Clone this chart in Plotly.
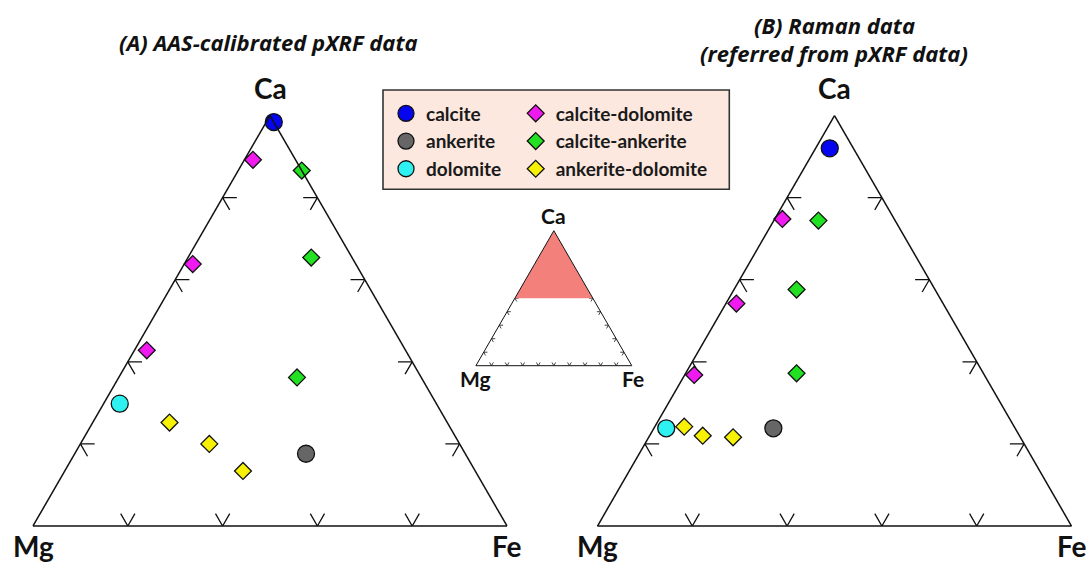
import plotly.graph_objects as go

# ---------------- data ----------------
categories = ["calcite", "ankerite", "dolomite",
              "calcite-dolomite", "calcite-ankerite", "ankerite-dolomite"]

# (A) AAS-calibrated pXRF data  (fractions of Ca, Mg, Fe)
A_Ca = {"calcite": [0.992], "ankerite": [0.588], "dolomite": [0.649],
        "calcite-dolomite": [0.946, 0.819, 0.714],
        "calcite-ankerite": [0.933, 0.827, 0.681],
        "ankerite-dolomite": [0.626, 0.600, 0.567]}
A_Mg = {"calcite": [0.000], "ankerite": [0.168], "dolomite": [0.334],
        "calcite-dolomite": [0.045, 0.172, 0.273],
        "calcite-ankerite": [0.000, 0.043, 0.131],
        "ankerite-dolomite": [0.293, 0.264, 0.245]}
A_Fe = {"calcite": [0.008], "ankerite": [0.244], "dolomite": [0.017],
        "calcite-dolomite": [0.009, 0.009, 0.013],
        "calcite-ankerite": [0.067, 0.130, 0.188],
        "ankerite-dolomite": [0.081, 0.136, 0.188]}

# (B) Raman data (referred from pXRF data)
B_Ca = {"calcite": [0.960], "ankerite": [0.619], "dolomite": [0.619],
        "calcite-dolomite": [0.874, 0.771, 0.684],
        "calcite-ankerite": [0.872, 0.788, 0.686],
        "ankerite-dolomite": [0.621, 0.610, 0.608]}
B_Mg = {"calcite": [0.025], "ankerite": [0.255], "dolomite": [0.368],
        "calcite-dolomite": [0.118, 0.218, 0.306],
        "calcite-ankerite": [0.081, 0.146, 0.197],
        "ankerite-dolomite": [0.348, 0.334, 0.303]}
B_Fe = {"calcite": [0.015], "ankerite": [0.126], "dolomite": [0.013],
        "calcite-dolomite": [0.008, 0.011, 0.010],
        "calcite-ankerite": [0.047, 0.066, 0.117],
        "ankerite-dolomite": [0.031, 0.056, 0.089]}

ca_zoom_min = 0.5                       # displayed Ca range in (A) and (B)
main_tick_fracs = [0.2, 0.4, 0.6, 0.8]  # tick positions along each edge
inset_tick_fracs = [0.1, 0.2, 0.3, 0.4, 0.5, 0.6, 0.7, 0.8, 0.9]
corner_labels = ["Ca", "Mg", "Fe"]
panel_titles = ["(A) AAS-calibrated pXRF data", "(B) Raman data",
                "(referred from pXRF data)"]

# ---------------- styles ----------------
colors = {"calcite": "#0505f0", "ankerite": "#666666", "dolomite": "#2ef2f2",
          "calcite-dolomite": "#f01af0", "calcite-ankerite": "#22e022",
          "ankerite-dolomite": "#f7f205"}
symbols = {"calcite": "circle", "ankerite": "circle", "dolomite": "circle",
           "calcite-dolomite": "diamond", "calcite-ankerite": "diamond",
           "ankerite-dolomite": "diamond"}
sizes = {"circle": 17, "diamond": 13}
legend_of = {"calcite": "legend", "ankerite": "legend", "dolomite": "legend",
             "calcite-dolomite": "legend2", "calcite-ankerite": "legend2",
             "ankerite-dolomite": "legend2"}

W, H = 1088, 563
FONT = "Lato"


def px(x):
    return x / W


def py(y):
    return 1 - y / H


def chevrons(amin, fracs, d):
    """Chevron tick marks along the three edges of a ternary with a-min = amin."""
    S = 1 - amin
    A, B, C = [], [], []
    for f in fracs:
        segs = []
        a = amin + S * f; b = 1 - a; c = 0.0          # left edge (Mg-Ca)
        segs.append([(a, b - d, c + d), (a, b, c), (a - d, b, c + d)])
        a = amin; c = S * f; b = S - c                # bottom edge (Mg-Fe)
        segs.append([(a + d, b, c - d), (a, b, c), (a + d, b - d, c)])
        a = amin + S * f; b = 0.0; c = 1 - a          # right edge (Ca-Fe)
        segs.append([(a, b + d, c - d), (a, b, c), (a - d, b + d, c)])
        for seg in segs:
            for p in seg:
                A.append(p[0]); B.append(p[1]); C.append(p[2])
            A.append(None); B.append(None); C.append(None)
    return A, B, C


fig = go.Figure()

# chevron ticks
for sub, amin, fracs, d, lw in [("ternary", ca_zoom_min, main_tick_fracs, 0.015, 1.3),
                                ("ternary2", ca_zoom_min, main_tick_fracs, 0.015, 1.3),
                                ("ternary3", 0.0, inset_tick_fracs, 0.024, 0.8)]:
    ta, tb, tc = chevrons(amin, fracs, d)
    fig.add_trace(go.Scatterternary(a=ta, b=tb, c=tc, mode="lines", subplot=sub,
                                    line=dict(color="#111111", width=lw),
                                    showlegend=False, hoverinfo="skip",
                                    connectgaps=False))

# inset shaded region (range displayed in the main diagrams)
fig.add_trace(go.Scatterternary(
    a=[1.0, ca_zoom_min, ca_zoom_min, 1.0],
    b=[0.0, 1 - ca_zoom_min, 0.0, 0.0],
    c=[0.0, 0.0, 1 - ca_zoom_min, 0.0],
    mode="lines", fill="toself", fillcolor="#f4807b",
    line=dict(width=0, color="#f4807b"), subplot="ternary3",
    showlegend=False, hoverinfo="skip"))

# data points
for sub, Ca, Mg, Fe, show in [("ternary", A_Ca, A_Mg, A_Fe, True),
                              ("ternary2", B_Ca, B_Mg, B_Fe, False)]:
    for cat in categories:
        fig.add_trace(go.Scatterternary(
            a=Ca[cat], b=Mg[cat], c=Fe[cat], mode="markers", name=cat,
            subplot=sub, legendgroup=cat, legend=legend_of[cat],
            showlegend=show, cliponaxis=False,
            marker=dict(symbol=symbols[cat], size=sizes[symbols[cat]],
                        color=colors[cat],
                        line=dict(color="#111111", width=1.3))))


def ternary_layout(x0, x1, ytop, ybot, amin, lw):
    ax = dict(showticklabels=False, ticks="", showgrid=False,
              linecolor="#111111", linewidth=lw, title=dict(text=""))
    return dict(
        domain=dict(x=[px(x0), px(x1)], y=[py(ybot), py(ytop)]), sum=1,
        bgcolor="rgba(0,0,0,0)",
        aaxis=dict(min=amin, **ax), baxis=dict(min=0, **ax),
        caxis=dict(min=0, **ax))


# triangle geometry in pixels: (x_left, x_right, y_top, y_bottom)
geom_A = (33, 507, 115.5, 526)
geom_B = (597, 1072, 115.5, 526)
geom_I = (475, 632.7, 230.7, 365.7)

legend_font = dict(family=FONT, size=19, color="#1a1a1a", weight="bold")
title_font = dict(family="Open Sans", size=22, color="#111111", weight="bold",
                  style="italic")

annotations = []


def add_text(text, x, y, font):
    annotations.append(dict(text=text, x=px(x), y=py(y), xref="paper",
                            yref="paper", showarrow=False, font=font,
                            xanchor="center", yanchor="middle"))


# corner labels
for (xl, xr, yt, yb), size, dy_top, dy_bot in [(geom_A, 28, 27, 20),
                                              (geom_B, 28, 27, 20),
                                              (geom_I, 21, 15, 13)]:
    f = dict(family=FONT, size=size, color="#111111", weight="bold")
    add_text(corner_labels[0], (xl + xr) / 2, yt - dy_top, f)
    add_text(corner_labels[1], xl, yb + dy_bot, f)
    add_text(corner_labels[2], xr, yb + dy_bot, f)

# panel titles
add_text(panel_titles[0], 268, 42, title_font)
add_text(panel_titles[1], 834, 25, title_font)
add_text(panel_titles[2], 834, 53, title_font)

fig.update_layout(
    width=W, height=H, margin=dict(l=0, r=0, t=0, b=0),
    paper_bgcolor="white", plot_bgcolor="white",
    ternary=ternary_layout(*geom_A, ca_zoom_min, 1.5),
    ternary2=ternary_layout(*geom_B, ca_zoom_min, 1.5),
    ternary3=ternary_layout(*geom_I, 0.0, 1.0),
    legend=dict(x=px(386), y=py(94.5), xanchor="left", yanchor="top",
                bgcolor="rgba(0,0,0,0)", borderwidth=0, font=legend_font,
                tracegroupgap=0, orientation="v"),
    legend2=dict(x=px(515.7), y=py(94.5), xanchor="left", yanchor="top",
                 bgcolor="rgba(0,0,0,0)", borderwidth=0, font=legend_font,
                 tracegroupgap=0, orientation="v"),
    shapes=[dict(type="rect", xref="paper", yref="paper", layer="below",
                 x0=px(383), x1=px(729.3), y0=py(189.3), y1=py(90),
                 fillcolor="#fce8de", line=dict(color="#333333", width=1.6))],
    annotations=annotations,
)

fig.write_html(
    "out.html",
    config={"displayModeBar": False},
    post_script="document.body.style.margin='0';"
                "document.documentElement.style.overflow='hidden';",
)
